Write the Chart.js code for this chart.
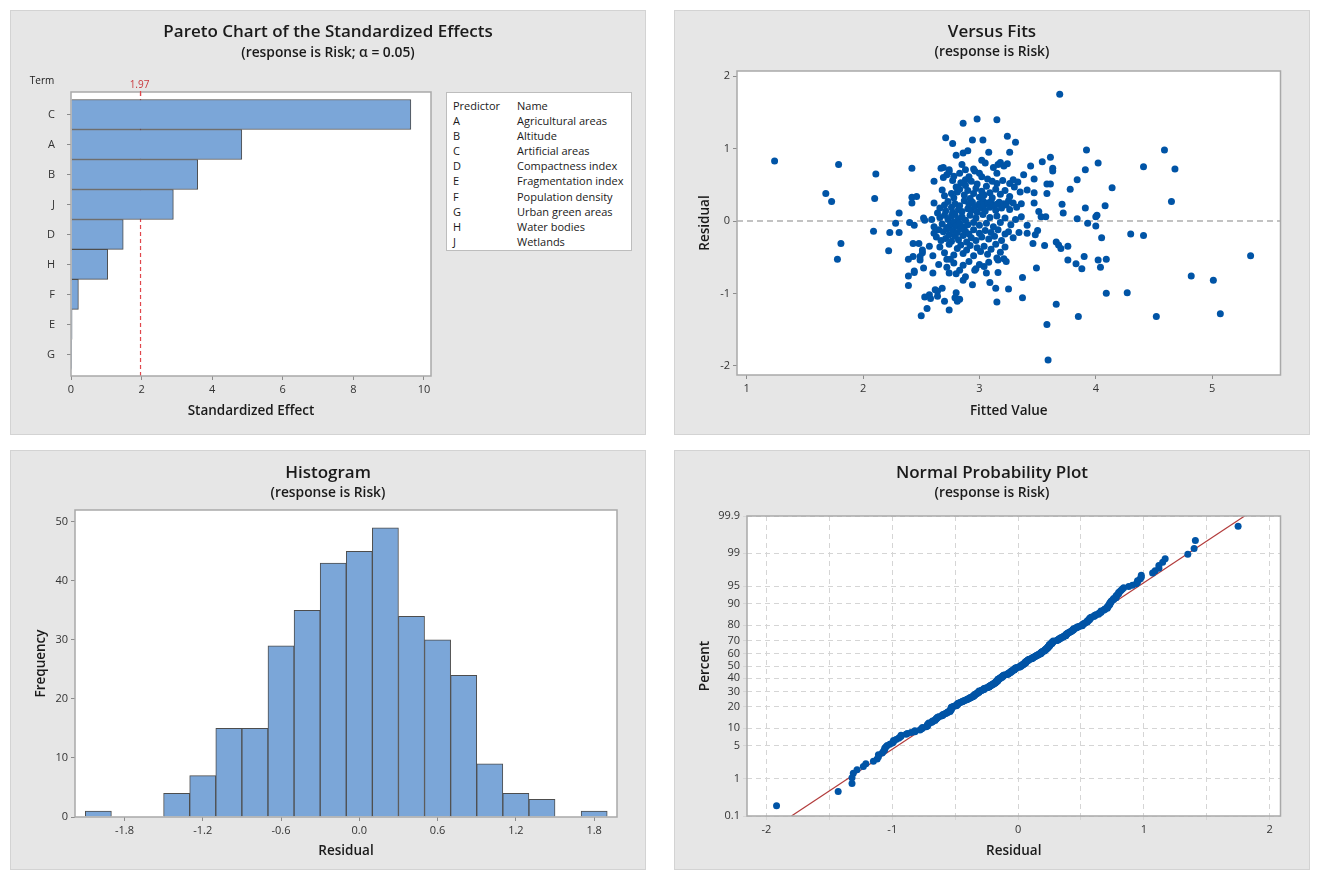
<!DOCTYPE html>
<html>
<head>
<meta charset="utf-8">
<script src="https://cdn.jsdelivr.net/npm/chart.js@4.4.1/dist/chart.umd.min.js"></script>
<style>
body { margin: 0; background: #fff; width: 1318px; height: 883px; position: relative; font-family: 'Open Sans', sans-serif; }
.panel { position: absolute; background: #e6e6e6; box-shadow: inset 0 0 0 1px #d3d3d3; }
.panel canvas { position: absolute; left: 0; top: 0; }
.title { position: absolute; left: 0; width: 100%; text-align: center; font-weight: 600; font-size: 17px; line-height: 22px; color: #1a1a1a; }
.sub { position: absolute; left: 0; width: 100%; text-align: center; font-weight: 600; font-size: 13.8px; line-height: 18px; color: #1a1a1a; }
.legendbox { position: absolute; left: 436px; top: 82px; width: 186px; height: 159px; background: #fff; border: 1px solid #bdbdbd; font-size: 11px; color: #1a1a1a; padding-top: 5px; box-sizing: border-box; }
.legendbox div { height: 15.1px; line-height: 15.1px; position: relative; }
.legendbox span { position: absolute; }
</style>
</head>
<body>

<div class="panel" style="left:10px;top:10px;width:636px;height:425px">
  <canvas id="pareto" width="636" height="425"></canvas>
  <div class="title" style="top:10px">Pareto Chart of the Standardized Effects</div>
  <div class="sub" style="top:33px">(response is Risk; α = 0.05)</div>
  <div class="legendbox" id="legend"></div>
</div>

<div class="panel" style="left:674px;top:10px;width:636px;height:425px">
  <canvas id="fits" width="636" height="425"></canvas>
  <div class="title" style="top:10px">Versus Fits</div>
  <div class="sub" style="top:32px">(response is Risk)</div>
</div>

<div class="panel" style="left:10px;top:450px;width:636px;height:420px">
  <canvas id="hist" width="636" height="420"></canvas>
  <div class="title" style="top:11px">Histogram</div>
  <div class="sub" style="top:33px">(response is Risk)</div>
</div>

<div class="panel" style="left:674px;top:450px;width:636px;height:420px">
  <canvas id="normal" width="636" height="420"></canvas>
  <div class="title" style="top:11px">Normal Probability Plot</div>
  <div class="sub" style="top:33px">(response is Risk)</div>
</div>

<script>
// ---- data ----
var paretoTerms = ['C', 'A', 'B', 'J', 'D', 'H', 'F', 'E', 'G'];
var paretoEffects = [9.63, 4.84, 3.59, 2.9, 1.48, 1.04, 0.21, 0.03, 0.02];
var paretoRef = 1.97;
var paretoTicks = [0, 2, 4, 6, 8, 10];
var predictorCodes = ['A', 'B', 'C', 'D', 'E', 'F', 'G', 'H', 'J'];
var predictorNames = ['Agricultural areas', 'Altitude', 'Artificial areas', 'Compactness index',
  'Fragmentation index', 'Population density', 'Urban green areas', 'Water bodies', 'Wetlands'];

var histCenters = [-2.0, -1.8, -1.6, -1.4, -1.2, -1.0, -0.8, -0.6, -0.4, -0.2, 0.0, 0.2, 0.4, 0.6, 0.8, 1.0, 1.2, 1.4, 1.6, 1.8];
var histCounts  = [1, 0, 0, 4, 7, 15, 15, 29, 35, 43, 45, 49, 34, 30, 24, 9, 4, 3, 0, 1];
var histTicks = [-1.8, -1.2, -0.6, 0.0, 0.6, 1.2, 1.8];
var histYTicks = [0, 10, 20, 30, 40, 50];

var fitsXTicks = [1, 2, 3, 4, 5];
var fitsYTicks = [-2, -1, 0, 1, 2];

var normXTicks = [-2, -1.5, -1, -0.5, 0, 0.5, 1, 1.5, 2];
var normYTicks = [0.1, 1, 5, 10, 20, 30, 40, 50, 60, 70, 80, 90, 95, 99, 99.9];
var fitMean = 0;
var fitSd = 0.583;

// [fitted value, residual]
var fitsPoints = [
  [3.69,1.75],
  [2.86,1.35],[2.98,1.41],[3.15,1.40],
  [2.71,1.15],[2.94,1.12],[3.03,1.12],[3.24,1.17],
  [2.77,1.07],[2.80,0.91],[3.31,1.09],[3.26,0.95],[3.08,0.95],[2.86,0.94],[2.90,0.97],[3.92,0.98],[4.59,0.98],
  [1.24,0.83],[1.79,0.78],[2.42,0.73],[3.54,0.82],[3.61,0.88],[3.63,0.73],[3.44,0.76],[3.91,0.71],[4.02,0.80],[4.41,0.75],
  [4.68,0.72],[2.67,0.73],[2.69,0.74],[2.85,0.78],[3.05,0.80],[3.16,0.78],[3.18,0.81],[3.21,0.76],[3.24,0.79],[2.88,0.71],
  [2.95,0.72],[3.02,0.84],[2.74,0.71],[3.12,0.74],
  [2.11,0.65],[3.38,0.64],[3.47,0.58],[3.58,0.51],[3.61,0.51],[3.84,0.57],[3.63,0.69],[2.61,0.55],[2.72,0.64],[2.74,0.68],
  [2.96,0.69],[3.15,0.66],[3.15,0.52],[3.02,0.61],[2.88,0.57],[2.91,0.61],[2.69,0.60],[2.78,0.62],[2.83,0.66],[2.84,0.53],
  [2.93,0.55],[3.00,0.66],[3.07,0.58],[3.11,0.55],[3.20,0.56],[3.26,0.52],[3.29,0.57],[3.33,0.54],[2.77,0.56],[2.98,0.51],
  [1.68,0.38],[2.10,0.31],[2.42,0.33],[2.46,0.34],[3.41,0.43],[3.47,0.39],[3.58,0.38],[3.78,0.44],[4.14,0.46],[2.80,0.47],
  [2.81,0.40],[2.68,0.43],[2.70,0.35],[2.76,0.38],[2.78,0.32],[2.83,0.44],[2.87,0.36],[2.90,0.42],[2.92,0.31],[2.95,0.38],
  [2.97,0.45],[3.00,0.33],[3.02,0.41],[3.04,0.36],[3.06,0.48],[3.09,0.39],[3.11,0.32],[3.14,0.44],[3.18,0.37],[3.22,0.42],
  [3.26,0.34],[3.30,0.47],[3.35,0.40],[2.88,0.49],
  [1.73,0.27],[2.42,0.25],[2.31,0.11],[2.64,0.11],[2.61,0.25],[3.36,0.24],[3.47,0.25],[3.71,0.23],[3.72,0.11],[3.51,0.13],
  [3.91,0.18],[4.08,0.21],[4.65,0.27],[2.66,0.18],[2.70,0.22],[2.71,0.14],[2.73,0.27],[2.76,0.19],[2.77,0.12],[2.79,0.24],
  [2.82,0.16],[2.83,0.21],[2.85,0.13],[2.87,0.28],[2.90,0.17],[2.91,0.23],[2.93,0.15],[2.94,0.26],[2.96,0.20],[2.98,0.12],
  [3.00,0.24],[3.01,0.18],[3.03,0.28],[3.04,0.22],[3.05,0.14],[3.07,0.25],[3.09,0.19],[3.10,0.27],[3.12,0.21],[3.14,0.15],
  [3.15,0.23],[3.17,0.26],[3.19,0.18],[3.21,0.24],[3.23,0.22],[3.26,0.16],[3.29,0.25],[3.32,0.19],[3.25,0.28],
  [2.28,-0.03],[2.40,-0.02],[2.44,-0.06],[2.52,0.04],[2.53,0.01],[2.59,0.02],[2.61,-0.08],[3.36,0.06],[3.41,-0.06],[3.53,0.06],
  [3.57,0.06],[3.84,0.03],[3.93,-0.03],[4.00,0.06],[4.01,0.08],[4.00,-0.07],[2.66,0.05],[2.68,-0.04],[2.70,0.08],[2.72,-0.09],
  [2.73,0.02],[2.75,-0.05],[2.76,0.07],[2.78,-0.01],[2.79,0.09],[2.80,-0.07],[2.82,0.03],[2.83,-0.03],[2.85,0.06],[2.86,-0.08],
  [2.88,0.01],[2.90,-0.05],[2.92,0.08],[2.95,-0.02],[2.97,0.04],[3.00,-0.06],[3.03,0.09],[3.06,-0.03],[3.09,0.05],[3.12,-0.08],
  [3.15,0.07],[3.18,-0.02],[3.22,0.04],[3.27,-0.05],[3.31,0.02],
  [2.09,-0.14],[2.23,-0.16],[2.31,-0.16],[2.61,-0.17],[3.50,-0.13],[3.41,-0.17],[3.48,-0.19],[4.05,-0.23],[4.30,-0.18],[4.41,-0.20],
  [3.66,-0.29],[2.63,-0.22],[2.65,-0.12],[2.67,-0.27],[2.69,-0.15],[2.71,-0.24],[2.72,-0.11],[2.74,-0.19],[2.76,-0.28],[2.77,-0.13],
  [2.79,-0.21],[2.81,-0.16],[2.82,-0.26],[2.84,-0.11],[2.86,-0.20],[2.88,-0.14],[2.89,-0.29],[2.91,-0.18],[2.93,-0.23],[2.95,-0.12],
  [2.97,-0.27],[3.00,-0.17],[3.02,-0.22],[3.05,-0.13],[3.08,-0.25],[3.10,-0.16],[3.13,-0.21],[3.16,-0.12],[3.19,-0.27],[3.22,-0.18],
  [3.25,-0.15],[3.29,-0.23],[3.34,-0.16],
  [2.22,-0.41],[1.81,-0.31],[2.43,-0.31],[2.48,-0.31],[2.51,-0.44],[2.51,-0.40],[2.57,-0.35],[2.60,-0.48],[3.46,-0.31],[3.56,-0.34],
  [3.68,-0.33],[3.70,-0.38],[3.76,-0.35],[3.90,-0.49],[2.43,-0.49],[2.49,-0.49],[5.33,-0.48],[2.66,-0.36],[2.70,-0.44],[2.74,-0.32],
  [2.78,-0.47],[2.81,-0.38],[2.84,-0.33],[2.86,-0.45],[2.89,-0.40],[2.92,-0.34],[2.95,-0.48],[2.98,-0.37],[3.01,-0.42],[3.04,-0.35],
  [3.07,-0.46],[3.10,-0.39],[3.14,-0.32],[3.18,-0.43],[3.22,-0.36],
  [1.78,-0.53],[2.39,-0.53],[2.49,-0.54],[2.44,-0.69],[2.52,-0.65],[2.72,-0.53],[2.75,-0.53],[2.72,-0.64],[2.83,-0.68],[2.96,-0.68],
  [2.97,-0.66],[3.04,-0.63],[3.21,-0.52],[3.23,-0.56],[3.15,-0.51],[3.16,-0.54],[3.49,-0.65],[3.76,-0.54],[3.83,-0.59],[3.88,-0.66],
  [4.02,-0.54],[4.04,-0.64],[4.09,-0.53],[2.78,-0.58],[2.86,-0.61],[2.91,-0.56],[3.00,-0.60],[3.08,-0.57],[2.65,-0.60],
  [2.39,-0.76],[2.44,-0.71],[2.60,-0.72],[2.74,-0.72],[2.80,-0.73],[2.86,-0.82],[2.88,-0.77],[2.94,-0.88],[3.06,-0.72],[3.09,-0.85],
  [3.16,-0.71],[3.37,-0.78],[4.82,-0.76],[5.01,-0.82],[2.39,-0.89],
  [2.62,-0.95],[2.64,-0.97],[2.68,-0.93],[2.80,-0.99],[2.83,-1.08],[2.79,-1.06],[2.64,-1.04],[2.57,-1.02],[2.53,-1.05],[2.58,-1.07],
  [3.14,-0.93],[3.25,-0.94],[4.09,-1.00],[4.27,-0.99],[3.37,-1.06],
  [2.55,-1.21],[2.74,-1.23],[5.07,-1.28],[3.15,-1.12],[3.66,-1.15],[2.70,-1.11],[2.81,-1.11],
  [2.50,-1.31],[3.85,-1.32],[4.52,-1.32],[3.58,-1.43],
  [3.59,-1.92]
];

var blue = '#0054a6';
var barFill = '#7ba6d8';
var barLine = '#4d4d4d';

Chart.defaults.font.family = "'Open Sans', sans-serif";
Chart.defaults.font.size = 11;
Chart.defaults.color = '#333';

// inverse standard normal (Acklam)
function normInv(p) {
  var a = [-39.69683028665376, 220.9460984245205, -275.9285104469687, 138.3577518672690, -30.66479806614716, 2.506628277459239];
  var b = [-54.47609879822406, 161.5858368580409, -155.6989798598866, 66.80131188771972, -13.28068155288572];
  var c = [-0.007784894002430293, -0.3223964580411365, -2.400758277161838, -2.549671625491787, 4.374664141464968, 2.938163982698783];
  var d = [0.007784695709041462, 0.3224671290700398, 2.445134137142996, 3.754408661907416];
  var q, r;
  if (p < 0.02425) {
    q = Math.sqrt(-2 * Math.log(p));
    return (((((c[0]*q+c[1])*q+c[2])*q+c[3])*q+c[4])*q+c[5]) / ((((d[0]*q+d[1])*q+d[2])*q+d[3])*q+1);
  }
  if (p > 1 - 0.02425) {
    q = Math.sqrt(-2 * Math.log(1 - p));
    return -(((((c[0]*q+c[1])*q+c[2])*q+c[3])*q+c[4])*q+c[5]) / ((((d[0]*q+d[1])*q+d[2])*q+d[3])*q+1);
  }
  q = p - 0.5; r = q * q;
  return (((((a[0]*r+a[1])*r+a[2])*r+a[3])*r+a[4])*r+a[5])*q / (((((b[0]*r+b[1])*r+b[2])*r+b[3])*r+b[4])*r+1);
}

// white plot area + grey frame
Chart.register({
  id: 'frame',
  beforeDraw: function(chart) {
    var a = chart.chartArea, ctx = chart.ctx;
    ctx.save();
    ctx.fillStyle = '#fff';
    ctx.fillRect(a.left, a.top, a.right - a.left, a.bottom - a.top);
    ctx.restore();
  },
  afterDraw: function(chart) {
    var a = chart.chartArea, ctx = chart.ctx;
    ctx.save();
    ctx.strokeStyle = '#a9a9a9';
    ctx.lineWidth = 1.5;
    ctx.strokeRect(a.left, a.top, a.right - a.left, a.bottom - a.top);
    ctx.restore();
  }
});

function setTicks(list) {
  return function(scale) { scale.ticks = list.map(function(v) { return { value: v }; }); };
}
function fixWidth(w) { return function(s) { s.width = w; }; }
function fixHeight(h) { return function(s) { s.height = h; }; }
var tickGrid = { display: true, drawOnChartArea: false, drawTicks: true, tickLength: 4, color: '#8c8c8c', offset: false };
var axisTitleFont = { size: 13.5, weight: '600' };

// ---- legend table ----
var legendHtml = '<div><span style="left:6px">Predictor</span><span style="left:70px">Name</span></div>';
for (var i = 0; i < predictorCodes.length; i++) {
  legendHtml += '<div><span style="left:6px">' + predictorCodes[i] + '</span><span style="left:70px">' + predictorNames[i] + '</span></div>';
}
document.getElementById('legend').innerHTML = legendHtml;

// ---- Pareto ----
new Chart(document.getElementById('pareto'), {
  type: 'bar',
  data: {
    datasets: [{
      data: paretoEffects.map(function(v, i) { return { x: v, y: i }; }),
      backgroundColor: barFill, borderColor: barLine, borderWidth: 1,
      barPercentage: 1, categoryPercentage: 1
    }]
  },
  options: {
    indexAxis: 'y', responsive: false, animation: false,
    layout: { padding: { left: 0, top: 82, right: 215, bottom: 0 } },
    plugins: { legend: { display: false }, tooltip: { enabled: false } },
    scales: {
      x: {
        type: 'linear', min: 0, max: 10.2,
        afterBuildTicks: setTicks(paretoTicks), afterFit: fixHeight(59),
        grid: tickGrid, border: { display: false },
        title: { display: true, text: 'Standardized Effect', font: axisTitleFont, color: '#1a1a1a', padding: { top: 0, bottom: 16 } }
      },
      y: {
        type: 'linear', min: -0.75, max: 8.72, reverse: true, offset: false,
        afterBuildTicks: setTicks(paretoTerms.map(function(t, i) { return i; })), afterFit: fixWidth(61),
        grid: tickGrid, border: { display: false },
        ticks: { padding: 12, callback: function(v) { return paretoTerms[v]; } }
      }
    }
  },
  plugins: [{
    id: 'paretoRef',
    beforeDatasetsDraw: function(chart) {
      var a = chart.chartArea, ctx = chart.ctx, x = chart.scales.x.getPixelForValue(paretoRef);
      ctx.save();
      ctx.strokeStyle = '#e0474c';
      ctx.lineWidth = 1.2;
      ctx.setLineDash([4, 3]);
      ctx.beginPath(); ctx.moveTo(x, a.top); ctx.lineTo(x, a.bottom); ctx.stroke();
      ctx.restore();
    },
    afterDraw: function(chart) {
      var a = chart.chartArea, ctx = chart.ctx, x = chart.scales.x.getPixelForValue(paretoRef);
      ctx.save();
      ctx.strokeStyle = '#e0474c';
      ctx.lineWidth = 1.2;
      ctx.beginPath(); ctx.moveTo(x, a.top - 1); ctx.lineTo(x, a.top + 4); ctx.stroke();
      ctx.fillStyle = '#c9393e';
      ctx.font = "10px 'Open Sans', sans-serif";
      ctx.textAlign = 'center'; ctx.textBaseline = 'middle';
      ctx.fillText(String(paretoRef), x - 1, 75);
      ctx.fillStyle = '#1a1a1a';
      ctx.fillText('Term', 32, 71);
      ctx.restore();
    }
  }]
});

// ---- Versus fits ----
new Chart(document.getElementById('fits'), {
  type: 'scatter',
  data: {
    datasets: [{
      data: fitsPoints.map(function(p) { return { x: p[0], y: p[1] }; }),
      backgroundColor: blue, borderWidth: 0, pointRadius: 3.5
    }]
  },
  options: {
    responsive: false, animation: false,
    layout: { padding: { left: 0, top: 61, right: 29.5, bottom: 0 } },
    plugins: { legend: { display: false }, tooltip: { enabled: false } },
    scales: {
      x: {
        type: 'linear', min: 0.917, max: 5.587,
        afterBuildTicks: setTicks(fitsXTicks), afterFit: fixHeight(60),
        grid: tickGrid, border: { display: false },
        title: { display: true, text: 'Fitted Value', font: axisTitleFont, color: '#1a1a1a', padding: { top: 0, bottom: 15.5 } }
      },
      y: {
        type: 'linear', min: -2.128, max: 2.073,
        afterBuildTicks: setTicks(fitsYTicks), afterFit: fixWidth(63),
        grid: tickGrid, border: { display: false },
        title: { display: true, text: 'Residual', font: axisTitleFont, color: '#1a1a1a', padding: { top: 22.6, bottom: 0 } }
      }
    }
  },
  plugins: [{
    id: 'zeroLine',
    beforeDatasetsDraw: function(chart) {
      var a = chart.chartArea, ctx = chart.ctx, y = chart.scales.y.getPixelForValue(0);
      ctx.save();
      ctx.strokeStyle = '#c2c2c2';
      ctx.lineWidth = 2;
      ctx.setLineDash([6, 4]);
      ctx.beginPath(); ctx.moveTo(a.left, y); ctx.lineTo(a.right, y); ctx.stroke();
      ctx.restore();
    }
  }]
});

// ---- Histogram ----
new Chart(document.getElementById('hist'), {
  type: 'bar',
  data: {
    datasets: [{
      data: histCenters.map(function(c, i) { return { x: c, y: histCounts[i] }; }),
      backgroundColor: barFill, borderColor: barLine, borderWidth: 1,
      barPercentage: 1, categoryPercentage: 1
    }]
  },
  options: {
    responsive: false, animation: false,
    layout: { padding: { left: 0, top: 60, right: 29, bottom: 0 } },
    plugins: { legend: { display: false }, tooltip: { enabled: false } },
    scales: {
      x: {
        type: 'linear', min: -2.179, max: 1.975, offset: false,
        afterBuildTicks: setTicks(histTicks), afterFit: fixHeight(53),
        grid: tickGrid, border: { display: false },
        ticks: { callback: function(v) { return v.toFixed(1); } },
        title: { display: true, text: 'Residual', font: axisTitleFont, color: '#1a1a1a', padding: { top: 0, bottom: 10.5 } }
      },
      y: {
        type: 'linear', min: 0, max: 52,
        afterBuildTicks: setTicks(histYTicks), afterFit: fixWidth(65),
        grid: tickGrid, border: { display: false },
        title: { display: true, text: 'Frequency', font: axisTitleFont, color: '#1a1a1a', padding: { top: 22.6, bottom: 0 } }
      }
    }
  }
});

// ---- Normal probability plot ----
var sortedRes = fitsPoints.map(function(p) { return p[1]; }).sort(function(a, b) { return a - b; });
var nRes = sortedRes.length;
var zMin = normInv(normYTicks[0] / 100), zMax = normInv(normYTicks[normYTicks.length - 1] / 100);

new Chart(document.getElementById('normal'), {
  type: 'scatter',
  data: {
    datasets: [{
      data: sortedRes.map(function(r, i) { return { x: r, y: normInv((i + 1 - 0.3) / (nRes + 0.4)) }; }),
      backgroundColor: blue, borderWidth: 0, pointRadius: 3.5
    }, {
      type: 'line',
      data: [{ x: fitMean + fitSd * zMin, y: zMin }, { x: fitMean + fitSd * zMax, y: zMax }],
      borderColor: '#b23b3b', borderWidth: 1.2, pointRadius: 0, fill: false
    }]
  },
  options: {
    responsive: false, animation: false,
    layout: { padding: { left: 0, top: 66, right: 29.5, bottom: 0 } },
    plugins: { legend: { display: false }, tooltip: { enabled: false } },
    scales: {
      x: {
        type: 'linear', min: -2.155, max: 2.087,
        afterBuildTicks: setTicks(normXTicks), afterFit: fixHeight(54),
        grid: { display: true, drawOnChartArea: true, drawTicks: true, tickLength: 4, color: '#d5d5d5' },
        border: { display: false, dash: [5, 4] },
        ticks: { callback: function(v) { return Number.isInteger(v) ? String(v) : ''; } },
        title: { display: true, text: 'Residual', font: axisTitleFont, color: '#1a1a1a', padding: { top: 0, bottom: 10.5 } }
      },
      y: {
        type: 'linear', min: zMin, max: zMax,
        afterBuildTicks: setTicks(normYTicks.map(function(p) { return normInv(p / 100); })), afterFit: fixWidth(73),
        grid: { display: true, drawOnChartArea: true, drawTicks: true, tickLength: 4, color: '#d5d5d5' },
        border: { display: false, dash: [5, 4] },
        ticks: { autoSkip: false, callback: function(v, i) { return String(normYTicks[i]); } },
        title: { display: true, text: 'Percent', font: axisTitleFont, color: '#1a1a1a', padding: { top: 22.6, bottom: 0 } }
      }
    }
  }
});
</script>
</body>
</html>
